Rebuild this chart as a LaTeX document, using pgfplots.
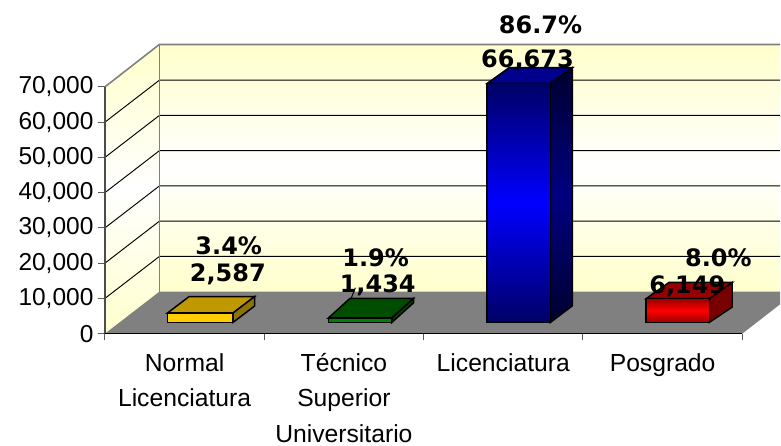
\documentclass[border=0pt]{standalone}
\usepackage{fontspec}
\setmainfont{Liberation Sans}
\newfontfamily\labfont{DejaVu Sans}
\usepackage{pgfplots}
\pgfplotsset{compat=1.18}
\definecolor{wallY}{HTML}{FFFFCC}
\definecolor{edge}{HTML}{808080}
\newcommand{\lab}[3]{\node[font=\labfont\fontsize{24}{24}\selectfont\bfseries,anchor=center,inner sep=0pt] at (axis cs:#1,#2) {#3};}
\begin{document}
\begin{tikzpicture}
\begin{axis}[
  scale only axis, width=638pt, height=247pt,
  xmin=0, xmax=4, ymin=0, ymax=70000,
  clip=false,
  axis x line*=bottom, axis y line*=left,
  axis line style={black,line width=1pt,-},
  xtick={0,1,2,3,4},
  x tick label as interval,
  xticklabels={{Normal\\Licenciatura},{Técnico\\Superior\\Universitario},{Licenciatura},{Posgrado}},
  xticklabel style={align=center,anchor=north,yshift=-9.5pt,font=\fontsize{24.7}{35.5}\selectfont},
  ytick={0,10000,20000,30000,40000,50000,60000,70000},
  yticklabel style={font=\fontsize{24.5}{24.5}\selectfont,xshift=-1.5pt,/pgf/number format/assume math mode=true,/pgf/number format/fixed,/pgf/number format/1000 sep={,}},
  scaled y ticks=false,
  tick style={black!65,line width=1pt},
  tick align=outside, major tick length=6.5pt,
]
% left wall
\addplot[draw=none,top color=wallY,bottom color=wallY,middle color=white] coordinates {(0,0)(0.3417,11903)(0.3417,82044)(0,70000)} --cycle;
% back wall
\addplot[draw=none,top color=wallY,bottom color=wallY,middle color=white] coordinates {(0.3417,11903)(4.238,11903)(4.238,82044)(0.3417,82044)} --cycle;
% floor
\addplot[draw=none,fill=edge] coordinates {(0,0)(4,0)(4.238,8360)(4.238,11903)(0.3417,11903)} --cycle;
% gridlines
\addplot[black,line width=0.95pt] coordinates {(0,10000)(0.3417,21903)(4.238,21903)};
\addplot[black,line width=0.95pt] coordinates {(0,20000)(0.3417,31903)(4.238,31903)};
\addplot[black,line width=0.95pt] coordinates {(0,30000)(0.3417,41903)(4.238,41903)};
\addplot[black,line width=0.95pt] coordinates {(0,40000)(0.3417,51903)(4.238,51903)};
\addplot[black,line width=0.95pt] coordinates {(0,50000)(0.3417,61903)(4.238,61903)};
\addplot[black,line width=0.95pt] coordinates {(0,60000)(0.3417,71903)(4.238,71903)};
% wall edges
\addplot[edge,line width=1.6pt] coordinates {(0,70000)(0.3417,82044)(4.238,82044)};
\addplot[edge,line width=1.6pt] coordinates {(0.3417,82044)(0.3417,11903)};
\addplot[black!70,line width=1.5pt] coordinates {(0,0)(0,70000)};
\addplot[black,line width=1pt] coordinates {(0,0)(4,0)};
% Normal Licenciatura
\addplot[draw=black,line width=1.5pt,fill={rgb,255:red,192;green,153;blue,0}] coordinates {(0.393,5866)(0.529,10542)(0.940,10542)(0.804,5866)} --cycle;
\addplot[draw=black,line width=1.5pt,fill={rgb,255:red,143;green,115;blue,0}] coordinates {(0.804,3202)(0.940,7879)(0.940,10542)(0.804,5866)} --cycle;
\addplot[draw=black,line width=1.5pt,fill={rgb,255:red,255;green,204;blue,0}] coordinates {(0.393,3202)(0.393,5866)(0.804,5866)(0.804,3202)} --cycle;
% Tecnico Superior
\addplot[draw=black,line width=1.5pt,fill={rgb,255:red,0;green,77;blue,0}] coordinates {(1.4025,4449)(1.538,10004)(1.937,10004)(1.801,4449)} --cycle;
\addplot[draw=black,line width=1.5pt,fill={rgb,255:red,0;green,64;blue,0}] coordinates {(1.801,3202)(1.937,8757)(1.937,10004)(1.801,4449)} --cycle;
\addplot[draw=black,line width=1.5pt,fill={rgb,255:red,0;green,128;blue,0}] coordinates {(1.4025,3202)(1.4025,4449)(1.801,4449)(1.801,3202)} --cycle;
% Licenciatura
\addplot[draw=black,line width=1.5pt,fill={rgb,255:red,0;green,0;blue,143}] coordinates {(2.399,70992)(2.537,75469)(2.934,75469)(2.796,70992)} --cycle;
\addplot[draw=black,line width=1.5pt,top color={rgb,255:red,0;green,0;blue,48},bottom color={rgb,255:red,0;green,0;blue,48},middle color={rgb,255:red,0;green,0;blue,128}] coordinates {(2.796,3202)(2.934,7935)(2.934,75469)(2.796,70992)} --cycle;
\addplot[draw=black,line width=1.5pt,top color={rgb,255:red,0;green,0;blue,102},bottom color={rgb,255:red,0;green,0;blue,102},middle color={rgb,255:red,0;green,0;blue,255}] coordinates {(2.399,3202)(2.399,70992)(2.796,70992)(2.796,3202)} --cycle;
% Posgrado
\addplot[draw=black,line width=1.5pt,fill={rgb,255:red,150;green,0;blue,0}] coordinates {(3.396,9919)(3.540,14538)(3.937,14538)(3.793,9919)} --cycle;
\addplot[draw=black,line width=1.5pt,fill={rgb,255:red,120;green,0;blue,0}] coordinates {(3.793,3202)(3.937,7567)(3.937,14538)(3.793,9919)} --cycle;
\addplot[draw=black,line width=1.5pt,top color={rgb,255:red,153;green,0;blue,0},bottom color={rgb,255:red,153;green,0;blue,0},middle color={rgb,255:red,255;green,0;blue,0}] coordinates {(3.396,3202)(3.396,9919)(3.793,9919)(3.793,3202)} --cycle;
% leader lines
\addplot[black,line width=1pt] coordinates {(1.572,13040)(1.547,10200)};
\addplot[black,line width=1pt] coordinates {(2.579,75700)(2.572,74800)};
\addplot[black,line width=1pt] coordinates {(3.553,12470)(3.541,11900)};
% data labels
\lab{0.777}{24938}{3.4\%}
\lab{0.771}{16800}{2,587}
\lab{1.699}{21537}{1.9\%}
\lab{1.712}{13600}{1,434}
\lab{2.734}{87581}{86.7\%}
\lab{2.652}{77600}{66,673}
\lab{3.850}{21537}{8.0\%}
\lab{3.655}{13300}{6,149}
\end{axis}
\path[use as bounding box] (-105pt,-110pt) rectangle ++(781pt,444pt);
\end{tikzpicture}
\end{document}
